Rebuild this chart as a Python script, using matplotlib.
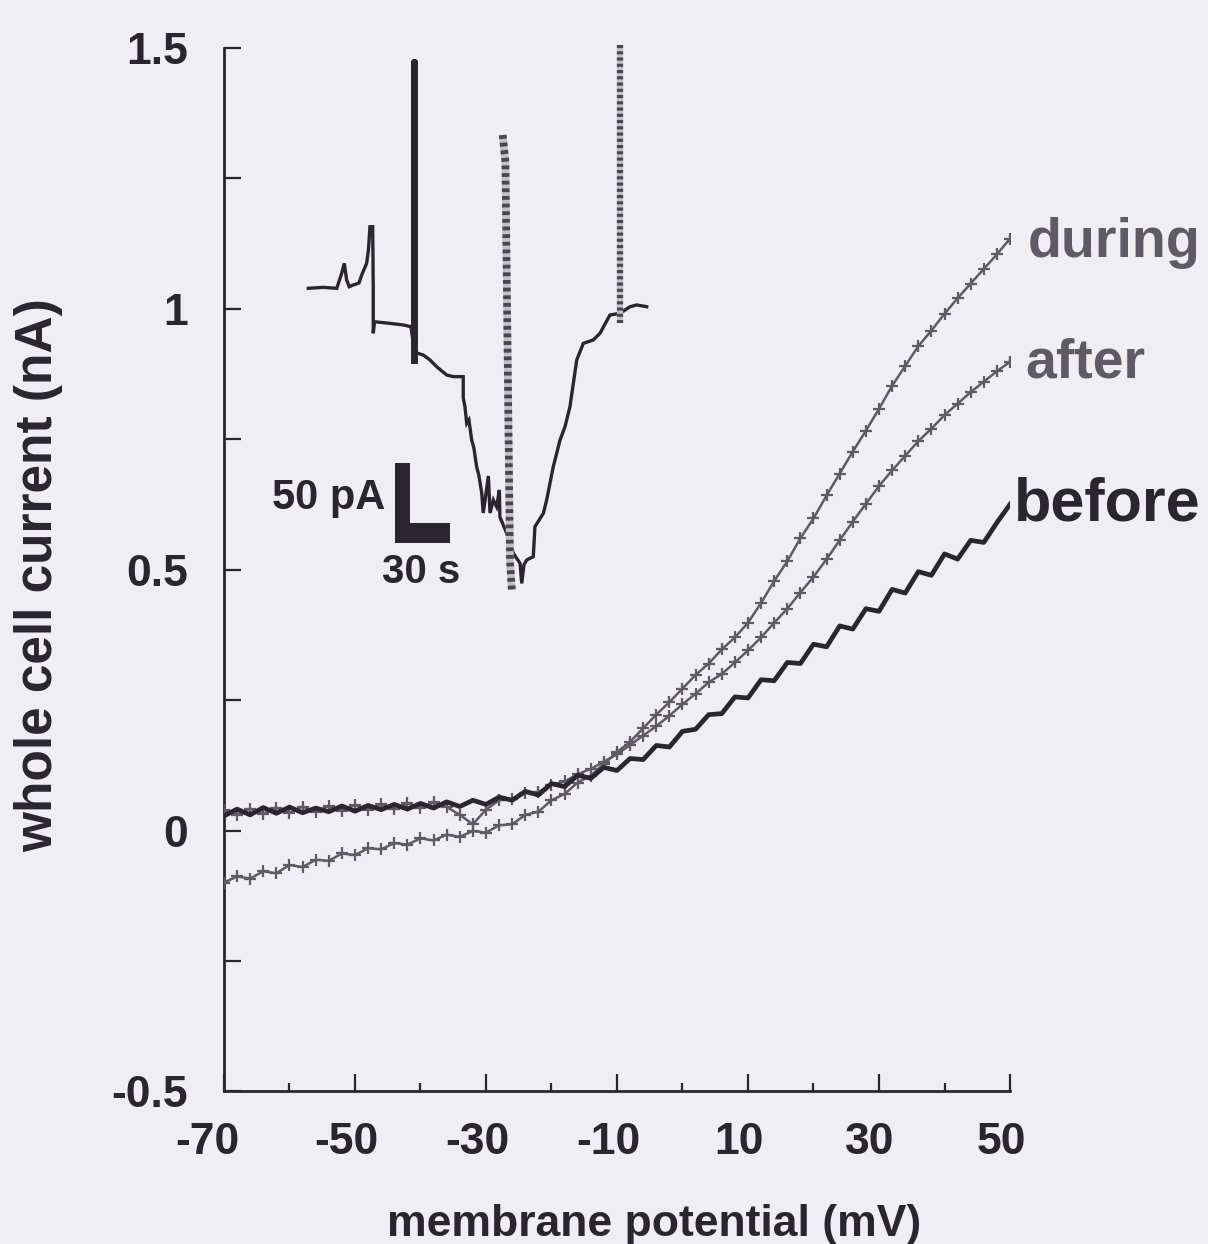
"""
Whole-cell I-V curves before / during / after cGMP, with the time-course inset
"""

import matplotlib
matplotlib.use('Agg')
import matplotlib.pyplot as plt
from matplotlib import font_manager
from matplotlib.patches import Rectangle
from matplotlib.transforms import ScaledTranslation

plt.rcParams['font.family'] = ['Liberation Sans', 'DejaVu Sans']
plt.rcParams['font.weight'] = 'bold'
plt.rcParams['axes.unicode_minus'] = False

# membrane potential of the ramp (mV)
potential = [-70, -68, -66, -64, -62, -60, -58, -56, -54, -52,
             -50, -48, -46, -44, -42, -40, -38, -36, -34, -32,
             -30, -28, -26, -24, -22, -20, -18, -16, -14, -12,
             -10, -8, -6, -4, -2, 0, 2, 4, 6, 8,
             10, 12, 14, 16, 18, 20, 22, 24, 26, 28,
             30, 32, 34, 36, 38, 40, 42, 44, 46, 48, 50]

# whole cell current (nA)
before = [0.028, 0.041, 0.030, 0.044, 0.033, 0.045, 0.034, 0.043, 0.036, 0.047,
          0.037, 0.048, 0.040, 0.050, 0.041, 0.052, 0.043, 0.055, 0.046, 0.058,
          0.050, 0.064, 0.058, 0.075, 0.068, 0.090, 0.084, 0.106, 0.100, 0.121,
          0.115, 0.138, 0.136, 0.163, 0.160, 0.190, 0.194, 0.222, 0.224, 0.256,
          0.254, 0.289, 0.287, 0.322, 0.320, 0.357, 0.352, 0.392, 0.386, 0.425,
          0.420, 0.462, 0.455, 0.496, 0.489, 0.530, 0.520, 0.556, 0.552, 0.590, 0.625]

during = [-0.100, -0.088, -0.092, -0.078, -0.082, -0.066, -0.070, -0.056, -0.058, -0.044,
          -0.047, -0.034, -0.036, -0.024, -0.027, -0.015, -0.019, -0.008, -0.012, -0.001,
          -0.004, 0.010, 0.012, 0.030, 0.036, 0.058, 0.070, 0.092, 0.105, 0.128,
          0.150, 0.170, 0.196, 0.222, 0.246, 0.272, 0.298, 0.320, 0.347, 0.370,
          0.398, 0.436, 0.478, 0.516, 0.560, 0.598, 0.642, 0.684, 0.726, 0.766,
          0.808, 0.852, 0.890, 0.928, 0.958, 0.990, 1.020, 1.048, 1.076, 1.104, 1.134]

after = [0.040, 0.030, 0.042, 0.032, 0.044, 0.034, 0.046, 0.036, 0.047, 0.038,
         0.049, 0.040, 0.050, 0.041, 0.052, 0.043, 0.054, 0.045, 0.030, 0.012,
         0.040, 0.058, 0.060, 0.072, 0.074, 0.088, 0.094, 0.108, 0.118, 0.132,
         0.146, 0.164, 0.182, 0.200, 0.220, 0.242, 0.262, 0.284, 0.300, 0.322,
         0.345, 0.370, 0.398, 0.425, 0.456, 0.486, 0.520, 0.556, 0.592, 0.626,
         0.660, 0.690, 0.718, 0.746, 0.770, 0.796, 0.818, 0.840, 0.860, 0.880, 0.898]

xticks_major = [-70, -50, -30, -10, 10, 30, 50]
xticks_minor = [-60, -40, -20, 0, 20, 40]
yticks_major = [-0.5, 0, 0.5, 1, 1.5]
yticklabels = ['-0.5', '0', '0.5', '1', '1.5']
yticks_minor = [-0.25, 0.25, 0.75, 1.25]

# inset: time course of the holding current (s, pA, arbitrary zero)
trace_t = [10.0, 18.2, 25.5, 28.2, 29.6, 30.9, 32.3, 34.5, 37.6, 39.1,
           41.8, 42.8, 43.6, 45.1, 45.4, 45.4, 46.1, 54.5, 61.8, 66.0,
           67.9, 69.1, 72.7, 76.4, 80.0, 85.5, 89.1, 92.7, 94.5, 94.5,
           95.4, 96.4, 97.6, 99.1, 100.3, 101.8, 103.0, 104.6, 105.4, 106.6,
           108.2, 109.1, 110.9, 112.7, 114.2, 114.5, 118.2, 121.8, 125.5, 126.4,
           127.6, 129.1, 132.7, 133.6, 138.2, 140.0, 143.6, 147.3, 150.0, 152.7,
           156.4, 160.0, 165.4, 169.1, 174.5, 180.0, 185.5, 189.1, 194.6]
trace_pa = [194.8, 195.4, 194.8, 204.2, 210.4, 200.0, 195.8, 196.9, 198.1, 203.1,
            210.4, 218.8, 233.3, 233.3, 195.8, 166.7, 173.9, 172.9, 171.9, 170.8,
            155.0, 154.4, 153.1, 150.0, 145.8, 140.6, 139.6, 139.6, 139.6, 126.3,
            121.0, 110.4, 112.5, 100.0, 95.0, 83.3, 78.0, 66.7, 54.4, 64.0,
            77.5, 54.4, 62.5, 58.3, 68.8, 51.9, 41.7, 29.2, 22.9, 10.4,
            21.9, 25.0, 27.1, 45.8, 54.2, 62.5, 83.3, 100.0, 108.3, 120.8,
            150.0, 160.4, 162.5, 166.7, 178.1, 179.2, 183.3, 184.4, 183.3]
spike_t = [67.9, 67.9, 67.9]
spike_pa = [170.8, 336.3, 150.0]
ramp1_t = [116.0, 117.5, 120.0, 121.0]
ramp1_pa = [290.6, 273.9, 25.0, 6.3]
ramp2_t = [180.0, 180.0]
ramp2_pa = [346.9, 173.1]
bar_origin = (57.3, 35.6)
bar_pa = 50
bar_s = 30

ink = '#2b2530'
dither = '#5f5a66'
paper = '#efeef3'

# the y label is set in a condensed face in the print
installed = font_manager.fontManager.ttflist
if any(f.name == 'Liberation Sans Narrow' for f in installed):
    ylab_font = dict(family=['Liberation Sans Narrow'], fontsize=44)
elif any(f.name == 'Noto Sans' and 'condensed' in str(f.stretch) for f in installed):
    ylab_font = dict(family=['Noto Sans'], fontstretch='condensed', fontsize=40)
else:
    ylab_font = dict(family=['Liberation Sans'], fontsize=37)

fig = plt.figure(figsize=(12.08, 12.44), dpi=100, facecolor=paper)
ax = fig.add_axes([0.1854, 0.1226, 0.6507, 0.8391])
ax.set_facecolor('none')
ax.set_xlim(-70, 50)
ax.set_ylim(-0.5, 1.5)

for side in ['top', 'right']:
    ax.spines[side].set_visible(False)
for side in ['left', 'bottom']:
    ax.spines[side].set_linewidth(2)
    ax.spines[side].set_color(ink)

ax.set_xticks(xticks_major)
ax.set_xticks(xticks_minor, minor=True)
ax.set_xticklabels([str(v) for v in xticks_major])
ax.set_yticks(yticks_major)
ax.set_yticks(yticks_minor, minor=True)
ax.set_yticklabels(yticklabels)
ax.tick_params(which='both', direction='in', color=ink, width=1.6,
               labelsize=32, labelcolor=ink)
ax.tick_params(axis='x', which='major', length=12, pad=22)
ax.tick_params(axis='x', which='minor', length=6)
ax.tick_params(axis='y', which='both', length=12, pad=26)

# nudge the x tick labels a little to the left, as in the print
for lab in ax.get_xticklabels():
    dx = -17 if lab.get_text() == '-70' else -9
    lab.set_transform(lab.get_transform() + ScaledTranslation(dx / 100, 0, fig.dpi_scale_trans))

# I-V curves
ax.plot(potential, before, color=ink, lw=3.4, zorder=4)
ax.plot(potential, after, color=dither, lw=1.8, marker='+', ms=8, mew=1.6, zorder=3)
ax.plot(potential, during, color=dither, lw=1.8, marker='+', ms=8, mew=1.6, zorder=3)

ax.text(52.7, 1.098, 'during', fontsize=40, color=dither, va='baseline', clip_on=False)
ax.text(52.3, 0.868, 'after', fontsize=40, color=dither, va='baseline', clip_on=False)
ax.text(50.6, 0.594, 'before', fontsize=44, color=ink, va='baseline', clip_on=False)

fig.text(654 / 1208, 1 - 1236 / 1244, 'membrane potential (mV)', fontsize=32,
         color=ink, ha='center', va='baseline')
fig.text(39 / 1208, 1 - 575 / 1244, 'whole cell current (nA)', color=ink,
         rotation=90, ha='center', va='center', **ylab_font)

# inset time course
ins = fig.add_axes([290 / 1208, 1 - 600 / 1244, 370 / 1208, 560 / 1244])
ins.set_xlim(0, 370 / 1.8333)
ins.set_ylim(0, 560 / 1.6)
ins.axis('off')
ins.patch.set_alpha(0)

ins.plot(trace_t, trace_pa, color=ink, lw=2.4, solid_joinstyle='miter')
ins.plot(spike_t, spike_pa, color=ink, lw=5)
for tt, pp, w in [(ramp1_t, ramp1_pa, 5.5), (ramp2_t, ramp2_pa, 4.5)]:
    ins.plot(tt, pp, color='#c4c0c8', lw=w, solid_capstyle='butt')
    ins.plot(tt, pp, color='#4a4550', lw=w, linestyle=(0, (0.5, 0.5)), dash_capstyle='butt')

ins.add_patch(Rectangle(bar_origin, 8.2, bar_pa, color=ink, lw=0))
ins.add_patch(Rectangle(bar_origin, bar_s, 12.5, color=ink, lw=0))
ins.text(bar_origin[0] - 5.5, bar_origin[1] + 28, '50 pA', fontsize=30, color=ink,
         ha='right', va='center')
ins.text(bar_origin[0] + 14, bar_origin[1] - 6, '30 s', fontsize=29, color=ink,
         ha='center', va='top')

plt.savefig('out.png', dpi=100, facecolor=paper)
